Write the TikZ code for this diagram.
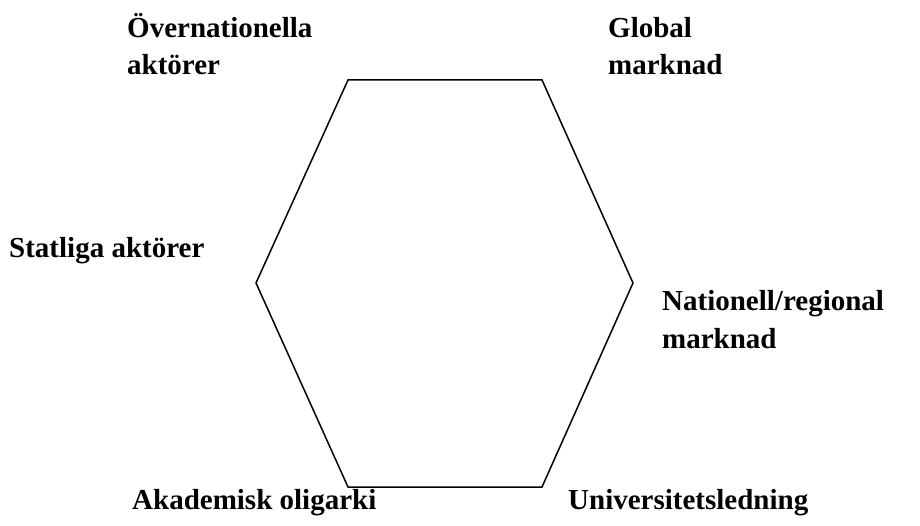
\documentclass[tikz,border=0pt]{standalone}
\usepackage{fontspec}
\setmainfont{Liberation Serif}
\usepackage{tikz}
\usetikzlibrary{positioning,calc}

\tikzset{
    actor/.style={anchor=base west, inner sep=0pt, align=left,
        font=\fontsize{29}{37}\selectfont\bfseries}
}

\begin{document}
\begin{tikzpicture}[x=1pt, y=-1pt]
    \useasboundingbox (0,0) rectangle (920,526);

    % Hexagon corners
    \coordinate (tl) at (348,80);
    \coordinate (tr) at (542,80);
    \coordinate (rr) at (633,283);
    \coordinate (br) at (542,487);
    \coordinate (bl) at (348,487);
    \coordinate (ll) at (256,283);
    \draw[line width=1.5pt, line join=miter] (tl) -- (tr) -- (rr) -- (br) -- (bl) -- (ll) -- cycle;

    % Actors (base = last line)
    \node[actor] (overnat) at (127,75) {Övernationella\\aktörer};
    \node[actor] (global) at (608,75) {Global\\marknad};
    \node[actor] (statliga) at (9,258) {Statliga aktörer};
    \node[actor] (nationell) at (662,348) {Nationell/regional\\marknad};
    \node[actor] (akademisk) at (132,509) {Akademisk oligarki};
    \node[actor] (ledning) at (568,509) {Universitetsledning};
\end{tikzpicture}
\end{document}
